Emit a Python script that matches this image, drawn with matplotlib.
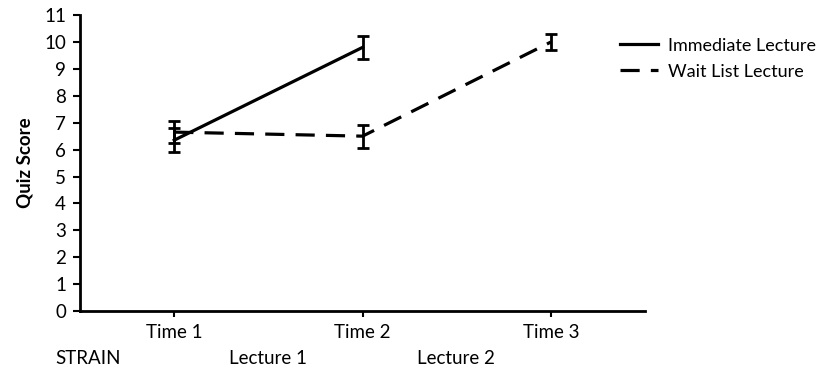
import matplotlib.pyplot as plt

plt.rcParams['font.family'] = ['Lato', 'DejaVu Sans']

times = ["Time 1", "Time 2", "Time 3"]
immediate = [6.35, 9.8]
immediate_err = [0.45, 0.42]
waitlist = [6.65, 6.5, 10.0]
waitlist_err = [0.4, 0.43, 0.3]

fig = plt.figure(figsize=(8.25, 3.77), dpi=100)
ax = fig.add_axes([0.097, 0.175, 0.685, 0.785])

x = [0.5, 1.5, 2.5]
ax.errorbar(x[:2], immediate, yerr=immediate_err, color="black", lw=2.3,
            capsize=4, capthick=2, elinewidth=2, label="Immediate Lecture")
ax.errorbar(x, waitlist, yerr=waitlist_err, color="black", lw=2.3,
            linestyle=(0, (6, 3.5)), capsize=4, capthick=2, elinewidth=2,
            label="Wait List Lecture")

ax.set_xlim(0, 3)
ax.set_ylim(0, 11)
ax.set_yticks(range(12))
ax.set_xticks(x)
ax.set_xticklabels(times)
ax.tick_params(axis="both", labelsize=13.5, width=1.5, color="black", pad=5)
ax.tick_params(axis="y", length=5)
ax.tick_params(axis="x", length=4)
ax.spines["top"].set_visible(False)
ax.spines["right"].set_visible(False)
ax.spines["left"].set_linewidth(2)
ax.spines["bottom"].set_linewidth(2)
ax.set_ylabel("Quiz Score", fontsize=13.5, fontweight="bold", labelpad=8)

fig.text(55 / 825, 1 - 358 / 377, "STRAIN", fontsize=13.5, va="center", ha="left")
fig.text(268 / 825, 1 - 358 / 377, "Lecture 1", fontsize=13.5, va="center", ha="center")
fig.text(456 / 825, 1 - 358 / 377, "Lecture 2", fontsize=13.5, va="center", ha="center")

handles, labels = ax.get_legend_handles_labels()
handles = [h[0] for h in handles]
fig.legend(handles, labels, loc="upper left", bbox_to_anchor=(0.7515, 0.90),
           frameon=False, fontsize=13, handlelength=2.1, handletextpad=0.55,
           labelspacing=0.55, borderpad=0, borderaxespad=0)

fig.savefig("out.png", dpi=100)
